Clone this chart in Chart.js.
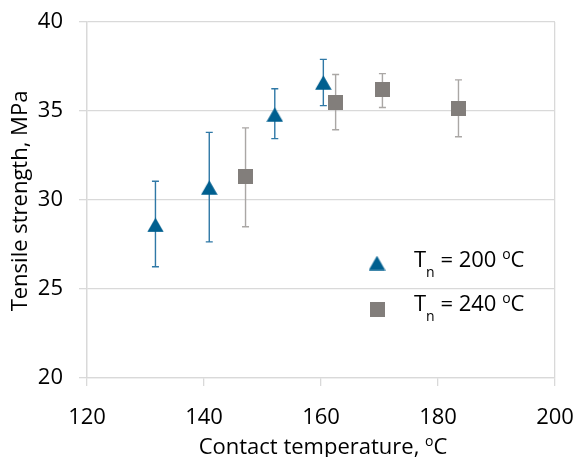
<!DOCTYPE html>
<html><head><meta charset="utf-8">
<script src="https://cdn.jsdelivr.net/npm/chart.js@4/dist/chart.umd.min.js"></script>
<style>html,body{margin:0;padding:0;background:#fff}#wrap{width:576px;height:457px}</style>
</head><body><div id="wrap"><canvas id="c" width="576" height="457"></canvas></div>
<script>
// ---- data ----
const tn200X  = [131.7, 140.9, 152.1, 160.4];
const tn200Y  = [28.6, 30.7, 34.8, 36.6];
const tn200Lo = [26.25, 27.65, 33.45, 35.3];
const tn200Hi = [31.05, 33.8, 36.25, 37.9];
const tn240X  = [147.1, 162.5, 170.5, 183.5];
const tn240Y  = [31.3, 35.5, 36.2, 35.15];
const tn240Lo = [28.5, 33.95, 35.2, 33.55];
const tn240Hi = [34.05, 37.05, 37.1, 36.75];
const xTicks = [120, 140, 160, 180, 200];
const yTicks = [20, 25, 30, 35, 40];
const legendLabels = ['200', '240'];

const BLUE = '#005f8f', BLUE_BAR = '#2f78a6';
const GRAY = '#827e7b', GRAY_BAR = '#aaa7a5';
const GRID = '#d9d9d9';
const FONT = '"Open Sans", sans-serif';

function triImg(color){
  const c = document.createElement('canvas'); c.width = 17; c.height = 15;
  const g = c.getContext('2d'); g.fillStyle = color;
  g.beginPath(); g.moveTo(8.5, 0.3); g.lineTo(16.8, 14.7); g.lineTo(0.2, 14.7); g.closePath(); g.fill();
  return c;
}
function sqImg(color){
  const c = document.createElement('canvas'); c.width = 15; c.height = 15;
  const g = c.getContext('2d'); g.fillStyle = color; g.fillRect(0, 0, 15, 15);
  return c;
}
const TRI = triImg(BLUE), SQ = sqImg(GRAY);

function build(xs, ys, lo, hi){ return xs.map((x, i) => ({x: x, y: ys[i], lo: lo[i], hi: hi[i]})); }

function richDraw(ctx, segs, x, y, size, align){
  let w = 0;
  segs.forEach(s => { ctx.font = Math.round(size * (s.sc || 1)) + 'px ' + FONT; w += ctx.measureText(s.t).width; });
  let cx = align === 'center' ? x - w / 2 : x;
  segs.forEach(s => {
    ctx.font = Math.round(size * (s.sc || 1)) + 'px ' + FONT;
    ctx.fillText(s.t, cx, y + (s.dy || 0) * size);
    cx += ctx.measureText(s.t).width;
  });
}

const errorBars = {
  id: 'errorBars',
  beforeDatasetsDraw(chart){
    const ctx = chart.ctx, xs = chart.scales.x, ys = chart.scales.y;
    chart.data.datasets.forEach(ds => {
      ctx.save(); ctx.strokeStyle = ds.barColor; ctx.lineWidth = 1.4;
      ds.data.forEach(p => {
        const px = xs.getPixelForValue(p.x), a = ys.getPixelForValue(p.lo), b = ys.getPixelForValue(p.hi);
        ctx.beginPath();
        ctx.moveTo(px, a); ctx.lineTo(px, b);
        ctx.moveTo(px - 3.5, a); ctx.lineTo(px + 3.5, a);
        ctx.moveTo(px - 3.5, b); ctx.lineTo(px + 3.5, b);
        ctx.stroke();
      });
      ctx.restore();
    });
  }
};

const texts = {
  id: 'texts',
  afterDraw(chart){
    const ctx = chart.ctx;
    ctx.save(); ctx.fillStyle = '#000'; ctx.textBaseline = 'alphabetic'; ctx.textAlign = 'left';
    // y title
    ctx.save(); ctx.translate(27, 201); ctx.rotate(-Math.PI / 2);
    richDraw(ctx, [{t: 'Tensile strength, MPa'}], 0, 0, 22, 'center');
    ctx.restore();
    // x title
    richDraw(ctx, [{t: 'Contact temperature, '}, {t: 'o', sc: 0.65, dy: -0.36}, {t: 'C'}], 323, 454, 22, 'center');
    // legend
    const rows = [{img: TRI, y: 263, base: 267}, {img: SQ, y: 309, base: 311}];
    rows.forEach((r, i) => {
      ctx.drawImage(r.img, 377 - r.img.width / 2, r.y - r.img.height / 2);
      richDraw(ctx, [{t: 'T'}, {t: 'n', sc: 0.65, dy: 0.45}, {t: ' = ' + legendLabels[i] + ' '}, {t: 'o', sc: 0.65, dy: -0.36}, {t: 'C'}], 414, r.base, 21.5, 'left');
    });
    ctx.restore();
  }
};

function noPad(s){ s.paddingTop = 0; s.paddingBottom = 0; s.paddingLeft = 0; s.paddingRight = 0; }

new Chart(document.getElementById('c'), {
  type: 'scatter',
  data: {
    datasets: [
      {label: 'Tn = 200 oC', data: build(tn200X, tn200Y, tn200Lo, tn200Hi), pointStyle: TRI, pointRadius: 8, barColor: BLUE_BAR, backgroundColor: BLUE, borderColor: BLUE},
      {label: 'Tn = 240 oC', data: build(tn240X, tn240Y, tn240Lo, tn240Hi), pointStyle: SQ, pointRadius: 8, barColor: GRAY_BAR, backgroundColor: GRAY, borderColor: GRAY}
    ]
  },
  options: {
    responsive: false, animation: false, devicePixelRatio: 1,
    layout: {padding: {top: 22, right: 21, left: 0, bottom: 0}},
    plugins: {legend: {display: false}, tooltip: {enabled: false}},
    scales: {
      x: {
        type: 'linear', min: 120, max: 200,
        afterBuildTicks: s => { s.ticks = xTicks.map(v => ({value: v})); },
        afterFit: s => { s.height = 79; noPad(s); },
        ticks: {font: {family: FONT, size: 22}, color: '#000', padding: 19},
        grid: {color: c => (c.tick && (c.tick.value === 120 || c.tick.value === 200)) ? GRID : 'rgba(0,0,0,0)', tickColor: GRID, tickLength: 8, lineWidth: 1.3},
        border: {color: GRID, width: 1.3}
      },
      y: {
        min: 20, max: 40,
        afterBuildTicks: s => { s.ticks = yTicks.map(v => ({value: v})); },
        afterFit: s => { s.width = 87; noPad(s); },
        ticks: {font: {family: FONT, size: 22}, color: '#000', padding: 16},
        grid: {color: GRID, tickColor: GRID, tickLength: 8, lineWidth: 1.3},
        border: {color: GRID, width: 1.3}
      }
    }
  },
  plugins: [errorBars, texts]
});
</script></body></html>
